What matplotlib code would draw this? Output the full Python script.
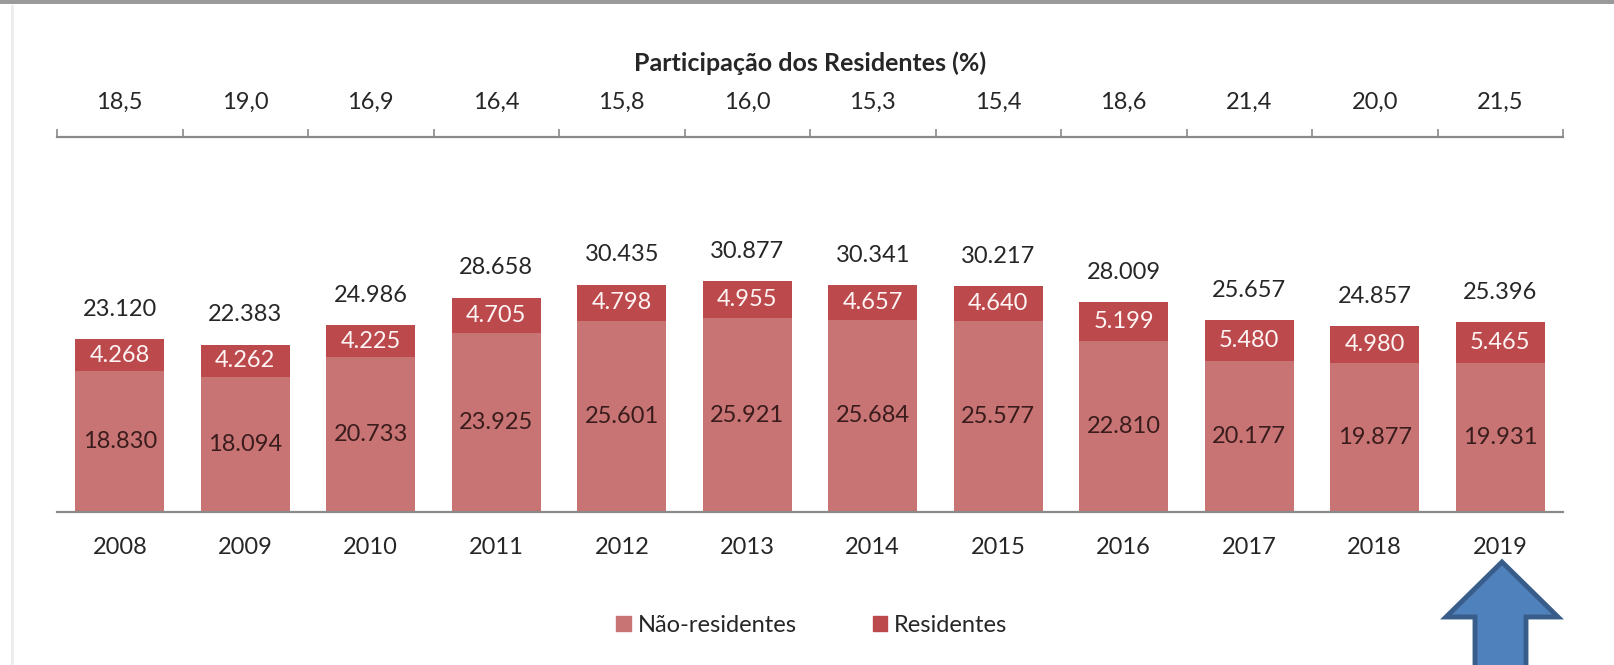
import matplotlib
matplotlib.use("Agg")
import matplotlib.pyplot as plt
from matplotlib.patches import Polygon, Rectangle
from matplotlib.lines import Line2D

# ---- data ----
years = ["2008", "2009", "2010", "2011", "2012", "2013", "2014", "2015", "2016", "2017", "2018", "2019"]
nao_residentes = [18830, 18094, 20733, 23925, 25601, 25921, 25684, 25577, 22810, 20177, 19877, 19931]
residentes = [4268, 4262, 4225, 4705, 4798, 4955, 4657, 4640, 5199, 5480, 4980, 5465]
totais = [23120, 22383, 24986, 28658, 30435, 30877, 30341, 30217, 28009, 25657, 24857, 25396]
participacao = [18.5, 19.0, 16.9, 16.4, 15.8, 16.0, 15.3, 15.4, 18.6, 21.4, 20.0, 21.5]
series_names = ["Não-residentes", "Residentes"]
title_top = "Participação dos Residentes (%)"

C_NAO = "#C87474"
C_RES = "#BC4A4D"
AXIS_GRAY = "#8a8a8a"
FONT = ["Lato", "DejaVu Sans"]
FS = 17

plt.rcParams['font.family'] = FONT

W, H = 1614, 665
fig = plt.figure(figsize=(W / 100, H / 100), dpi=100)
fig.patch.set_facecolor("white")


def fx(px):
    return px / W


def fy(py):
    return (H - py) / H


def thou(v):
    return f"{v:,}".replace(",", ".")


# ---- main bar axes ----
left, right = 57, 1563
base_y, top_y = 512, 160
ax = fig.add_axes([fx(left), fy(base_y), fx(right - left), (base_y - top_y) / H])
x = list(range(len(years)))
bw = 0.71
ax.bar(x, nao_residentes, width=bw, color=C_NAO, label=series_names[0], zorder=2)
ax.bar(x, residentes, width=bw, bottom=nao_residentes, color=C_RES, label=series_names[1], zorder=2)
ax.set_xlim(-0.5, len(years) - 0.5)
ax.set_ylim(0, (base_y - top_y) / 0.00748)
for s in ["top", "left", "right"]:
    ax.spines[s].set_visible(False)
ax.spines["bottom"].set_color(AXIS_GRAY)
ax.spines["bottom"].set_linewidth(1.6)
ax.set_yticks([])
ax.set_xticks([])

for i in x:
    n, r, t = nao_residentes[i], residentes[i], totais[i]
    ax.text(i, n / 2, thou(n), ha="center", va="center", fontsize=FS, color="#3a1c1c", zorder=3)
    ax.text(i, n + r / 2, thou(r), ha="center", va="center", fontsize=FS, color="#fff4f4", zorder=3)
    ax.annotate(thou(t), xy=(i, n + r), xytext=(0, 21.5), textcoords="offset points",
                ha="center", va="center", fontsize=FS, color="#262626")
    ax.annotate(years[i], xy=(i, 0), xycoords=("data", "axes fraction"), xytext=(0, -25.2),
                textcoords="offset points", ha="center", va="center", fontsize=FS, color="#262626")

# legend
handles = [Rectangle((0, 0), 1, 1, color=C_NAO), Rectangle((0, 0), 1, 1, color=C_RES)]
fig.legend(handles, series_names, loc="center", bbox_to_anchor=(fx(812), fy(625)), ncol=2,
           frameon=False, fontsize=FS, handlelength=0.62, handleheight=0.62, handletextpad=0.3,
           columnspacing=3.2, labelcolor="#262626")

# ---- top participation axes ----
line_y = 136.5
tax = fig.add_axes([fx(left), fy(line_y), fx(right - left), (line_y - 30) / H])
tax.set_xlim(-0.5, len(years) - 0.5)
tax.set_ylim(0, 1)
for s in ["top", "left", "right"]:
    tax.spines[s].set_visible(False)
tax.spines["bottom"].set_color(AXIS_GRAY)
tax.spines["bottom"].set_linewidth(1.6)
tax.set_xticks([i - 0.5 for i in range(len(years) + 1)])
tax.tick_params(axis="x", direction="in", length=5.5, width=1.2, color=AXIS_GRAY, labelbottom=False)
tax.set_yticks([])
tax.patch.set_alpha(0)
for i, p in enumerate(participacao):
    tax.annotate(f"{p:.1f}".replace(".", ","), xy=(i, 0), xytext=(0, 24.8), textcoords="offset points",
                 ha="center", va="center", fontsize=FS, color="#262626")
tax.annotate(title_top, xy=(0.5, 0), xycoords="axes fraction", xytext=(0, 52.5),
             textcoords="offset points", ha="center", va="center", fontsize=18,
             fontweight="bold", color="#262626")

# ---- decorations: frame remnants and blue arrow ----
fig.add_artist(Rectangle((0, fy(4)), 1, fy(0) - fy(4), transform=fig.transFigure,
                         facecolor="#9a9a9a", edgecolor="none"))
fig.add_artist(Line2D([fx(12), fx(12)], [fy(6), 0], transform=fig.transFigure,
                      color="#ececec", linewidth=2))

arrow_pts = [(1502, 562), (1558, 617), (1526, 617), (1526, 680), (1475, 680), (1475, 617), (1446, 617)]
fig.add_artist(Polygon([(fx(a), fy(b)) for a, b in arrow_pts], closed=True, transform=fig.transFigure,
                       facecolor="#4F81BD", edgecolor="#385D8A", linewidth=3.5, joinstyle="miter"))

fig.savefig("out.png", dpi=100, facecolor="white")
